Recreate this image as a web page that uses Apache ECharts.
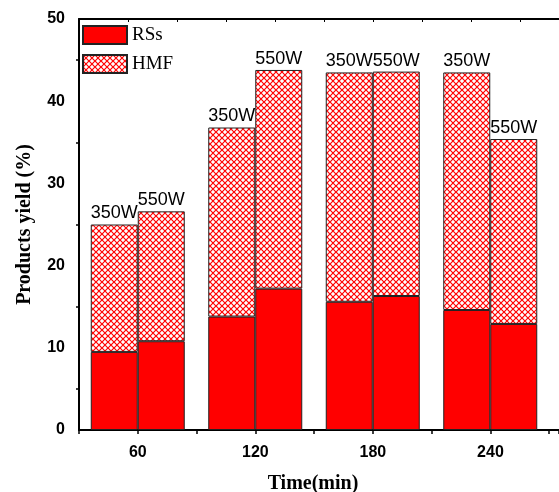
<!DOCTYPE html>
<html lang="en">
<head>
  <meta charset="UTF-8">
  <title>Products yield</title>
  <style>
    html, body { margin: 0; height: 100%; width: 100%; background: #fff; }
  </style>
</head>
<body>
  <div id="chart" style="width:559px;height:492px"></div>
  <script src="https://cdn.jsdelivr.net/npm/echarts@6/dist/echarts.min.js"></script>
  <script>
    // reaction time (min)
    const times = ['60', '120', '180', '240']
    const powers = ['350W', '550W']
    // yields (%)
    const rss350 = [9.5, 13.8, 15.6, 14.6]
    const rss550 = [10.8, 17.2, 16.3, 12.9]
    const hmf350 = [15.5, 23.0, 27.9, 28.9]
    const hmf550 = [15.8, 26.6, 27.3, 22.5]

    // red cross-hatch for HMF
    function hatch() {
      const c = document.createElement('canvas')
      c.width = c.height = 6
      const g = c.getContext('2d')
      g.fillStyle = '#fff'
      g.fillRect(0, 0, 6, 6)
      g.strokeStyle = '#ff0000'
      g.lineWidth = 1.2
      g.beginPath()
      g.moveTo(0, 0); g.lineTo(6, 6)
      g.moveTo(6, 0); g.lineTo(0, 6)
      g.stroke()
      return c
    }
    const hatchFill = { image: hatch(), repeat: 'repeat' }

    function rssSeries(vals, stack) {
      return {
        name: 'RSs',
        type: 'bar',
        stack: stack,
        barWidth: 47,
        barGap: '0%',
        itemStyle: { color: '#ff0000', borderColor: '#222', borderWidth: 1 },
        data: vals
      }
    }

    function hmfSeries(vals, stack, power) {
      return {
        name: 'HMF',
        type: 'bar',
        stack: stack,
        barWidth: 47,
        barGap: '0%',
        itemStyle: { color: hatchFill, borderColor: '#222', borderWidth: 1 },
        label: {
          show: true,
          position: 'top',
          distance: 2,
          formatter: power,
          color: '#000',
          fontSize: 18,
          fontFamily: 'Liberation Sans'
        },
        data: vals
      }
    }

    const tickLabel = { color: '#000', fontWeight: 'bold', fontSize: 16, fontFamily: 'Liberation Sans' }
    const nameStyle = { fontFamily: 'Liberation Serif', fontWeight: 'bold', fontSize: 20, color: '#000' }

    const option = {
      animation: false,
      backgroundColor: '#fff',
      // grid 0 holds the bars, grid 1 the frame that runs on to the right edge
      grid: [
        { left: 79, right: 10, top: 19, bottom: 62, outerBoundsMode: 'none' },
        { left: 79, right: 0, top: 19, bottom: 62, outerBoundsMode: 'none' }
      ],
      legend: {
        orient: 'vertical',
        left: 82,
        top: 25,
        padding: 0,
        icon: 'rect',
        itemWidth: 44,
        itemHeight: 18,
        itemGap: 9,
        data: ['RSs', 'HMF'],
        textStyle: { fontFamily: 'Liberation Serif', fontSize: 19, color: '#000' }
      },
      xAxis: [{
        type: 'category',
        gridIndex: 0,
        data: times,
        axisLine: { show: false },
        axisTick: { show: false },
        axisLabel: { show: false }
      }, {
        type: 'value',
        gridIndex: 1,
        min: 30,
        max: 275,
        interval: 30,
        name: 'Time(min)',
        nameLocation: 'middle',
        nameGap: 44,
        nameTextStyle: Object.assign({ padding: [0, 12, 0, 0] }, nameStyle),
        splitLine: { show: false },
        axisLine: { onZero: false, lineStyle: { color: '#000', width: 2 } },
        axisTick: { inside: false, length: 4, lineStyle: { color: '#000', width: 1.5 } },
        axisLabel: Object.assign({
          margin: 15,
          formatter: (v) => (v % 60 === 0 ? v : '')
        }, tickLabel)
      }, {
        type: 'value',
        gridIndex: 1,
        position: 'top',
        min: 0,
        max: 9.8,
        interval: 1,
        splitLine: { show: false },
        axisLine: { onZero: false, lineStyle: { color: '#000', width: 2 } },
        axisTick: { inside: true, length: 3, lineStyle: { color: '#000' } },
        axisLabel: { show: false }
      }],
      yAxis: [{
        type: 'value',
        gridIndex: 0,
        min: 0,
        max: 50,
        interval: 10,
        name: 'Products yield (%)',
        nameLocation: 'middle',
        nameGap: 44,
        nameTextStyle: nameStyle,
        splitLine: { show: false },
        axisLine: { show: true, lineStyle: { color: '#000', width: 2 } },
        axisTick: { inside: false, length: 5, lineStyle: { color: '#000', width: 1.5 } },
        minorTick: { show: true, splitNumber: 2, length: 3, lineStyle: { color: '#000', width: 1.5 } },
        axisLabel: Object.assign({ margin: 14 }, tickLabel)
      }, {
        type: 'value',
        gridIndex: 1,
        min: 0,
        max: 50,
        show: false
      }],
      series: [
        rssSeries(rss350, powers[0]),
        hmfSeries(hmf350, powers[0], powers[0]),
        rssSeries(rss550, powers[1]),
        hmfSeries(hmf550, powers[1], powers[1])
      ]
    }

    const myChart = echarts.init(document.getElementById('chart'))
    myChart.setOption(option)
  </script>
</body>
</html>
